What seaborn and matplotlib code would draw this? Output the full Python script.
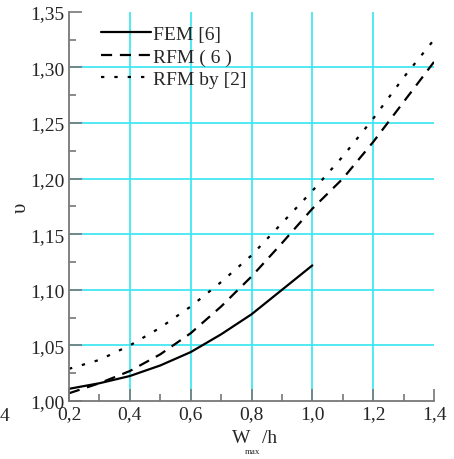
import numpy as np
import pandas as pd
import matplotlib
matplotlib.use("Agg")
import matplotlib.pyplot as plt
import seaborn as sns

# -------------------------------
# data
# -------------------------------
x_fem = [0.2, 0.3, 0.4, 0.5, 0.6, 0.7, 0.8, 0.9, 1.0]
fem = [1.011, 1.016, 1.0225, 1.032, 1.044, 1.060, 1.078, 1.100, 1.122]

x_rfm = [0.2, 0.3, 0.4, 0.5, 0.6, 0.7, 0.8, 0.9, 1.0, 1.1, 1.2, 1.3, 1.4]
rfm6 = [1.007, 1.016, 1.027, 1.042, 1.061, 1.085, 1.112, 1.142, 1.173,
        1.200, 1.233, 1.269, 1.305]
rfm2 = [1.029, 1.037, 1.050, 1.066, 1.085, 1.107, 1.131, 1.160, 1.189,
        1.220, 1.254, 1.291, 1.325]

xticks = [0.2, 0.4, 0.6, 0.8, 1.0, 1.2, 1.4]
xtick_labels = ["0,2", "0,4", "0,6", "0,8", "1,0", "1,2", "1,4"]
yticks = [1.00, 1.05, 1.10, 1.15, 1.20, 1.25, 1.30, 1.35]
ytick_labels = ["1,00", "1,05", "1,10", "1,15", "1,20", "1,25", "1,30", "1,35"]

# -------------------------------
# style
# -------------------------------
sns.set_style("white")
plt.rcParams["font.family"] = ["Liberation Serif", "DejaVu Serif"]

fig = plt.figure(figsize=(4.54, 4.60), dpi=100)
ax = fig.add_axes([0.152, 0.126, 0.804, 0.846])

df_fem = pd.DataFrame({"x": x_fem, "y": fem})
df_rfm = pd.DataFrame({"x": x_rfm, "y6": rfm6, "y2": rfm2})

sns.lineplot(data=df_fem, x="x", y="y", ax=ax, color="black", lw=1.6,
             label="FEM [6]")
sns.lineplot(data=df_rfm, x="x", y="y6", ax=ax, color="black", lw=1.6,
             label="RFM ( 6 )")
sns.lineplot(data=df_rfm, x="x", y="y2", ax=ax, color="black", lw=1.6,
             label="RFM by [2]")
ax.lines[1].set_dashes([5, 3.5])
ax.lines[2].set_dashes([1.5, 4.5])

ax.set_xlim(0.2, 1.4)
ax.set_ylim(1.00, 1.35)
ax.set_xticks(xticks)
ax.set_xticklabels(xtick_labels)
ax.set_yticks(yticks)
ax.set_yticklabels(ytick_labels)
ax.set_xticks(np.arange(0.3, 1.4, 0.2), minor=True)
ax.set_yticks(np.arange(1.025, 1.35, 0.05), minor=True)

# cyan grid, none on the axis ends
ax.grid(True, which="major", color="#33E6F0", lw=1.2)
for gl in [ax.xaxis.get_gridlines()[0], ax.xaxis.get_gridlines()[-1],
           ax.yaxis.get_gridlines()[0], ax.yaxis.get_gridlines()[-1]]:
    gl.set_visible(False)
ax.set_axisbelow(True)

for side in ["top", "right"]:
    ax.spines[side].set_visible(False)
for side in ["left", "bottom"]:
    ax.spines[side].set_color("#777777")
    ax.spines[side].set_linewidth(1.3)

ax.tick_params(which="major", direction="in", length=9, width=1.2,
               color="#777777", labelsize=14, pad=3)
ax.tick_params(which="minor", direction="in", length=5, width=1.2,
               color="#777777")
ax.tick_params(axis="x", which="both", bottom=True)
ax.tick_params(axis="y", which="both", left=True)

ax.set_xlabel("")
ax.set_ylabel("υ", fontsize=15)
ax.yaxis.set_label_coords(-0.105, 0.5)

# x label with a tiny subscript, as in the reference
fig.text(0.551, 0.037, "W", fontsize=14, ha="right", va="baseline")
fig.text(0.540, 0.012, "max", fontsize=6.5, ha="left", va="baseline")
fig.text(0.577, 0.037, "/h", fontsize=14, ha="left", va="baseline")

leg = ax.legend(loc="upper left", frameon=False, fontsize=14,
                handlelength=2.6, handletextpad=0.1, labelspacing=0.25,
                borderaxespad=0.3, bbox_to_anchor=(0.05, 1.0))

fig.text(0.0, 0.085, "4", fontsize=14)

fig.savefig("out.png", dpi=100)
